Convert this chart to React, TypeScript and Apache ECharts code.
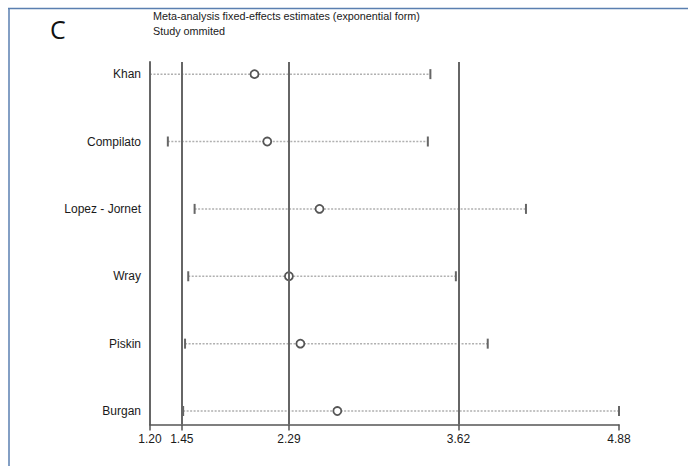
import React, { useEffect, useRef } from "react";
import * as echarts from "echarts";

// Studies omitted (top to bottom)
const studies = ["Khan", "Compilato", "Lopez - Jornet", "Wray", "Piskin", "Burgan"];
// Estimates when each study is omitted
const lowerCI = [1.2, 1.34, 1.55, 1.5, 1.475, 1.46];
const estimate = [2.02, 2.12, 2.53, 2.29, 2.38, 2.67];
const upperCI = [3.4, 3.38, 4.15, 3.6, 3.85, 4.88];
// Overall estimate and its CI (reference lines)
const overallEstimate = 2.29;
const overallCI = [1.45, 3.62];
// Axis tick labels
const xTicks = [1.2, 1.45, 2.29, 3.62, 4.88];
const xMin = 1.2;
const xMax = 4.88;

const titleLine1 = "Meta-analysis fixed-effects estimates (exponential form)";
const titleLine2 = "Study ommited";
const panelLetter = "C";

const FONT = "'Liberation Sans', Arial, sans-serif";

export default function App() {
  const ref = useRef<HTMLDivElement>(null);

  useEffect(() => {
    if (!ref.current) return;
    const chart = echarts.init(ref.current, undefined, { renderer: "svg" });
    const n = studies.length;
    const rows = studies.map((name, i) => [n - 1 - i, lowerCI[i], estimate[i], upperCI[i]]);
    const rowNames: Record<number, string> = {};
    studies.forEach((s, i) => (rowNames[n - 1 - i] = s));

    const option: any = {
      animation: false,
      backgroundColor: "#ffffff",
      textStyle: { fontFamily: FONT },
      title: {
        text: titleLine1 + "\n" + titleLine2,
        left: 153,
        top: 8,
        padding: 0,
        textStyle: {
          fontSize: 10.8,
          fontWeight: "normal",
          color: "#1a1a1a",
          lineHeight: 15,
          fontFamily: FONT,
        },
      },
      graphic: [
        {
          type: "line",
          shape: { x1: 8, y1: 8.5, x2: 688, y2: 8.5 },
          style: { stroke: "#5a7fb0", lineWidth: 1.5 },
        },
        {
          type: "line",
          shape: { x1: 9, y1: 8, x2: 9, y2: 466 },
          style: { stroke: "#5a7fb0", lineWidth: 1.5 },
        },
        {
          type: "text",
          left: 50,
          top: 16,
          style: {
            text: panelLetter,
            fontSize: 25,
            fill: "#111",
            fontFamily: "'Open Sans', 'Liberation Sans', sans-serif",
          },
        },
      ],
      grid: { left: 150, right: 69, top: 62, bottom: 41.5 },
      xAxis: {
        type: "value",
        min: xMin,
        max: xMax,
        axisLine: { show: true, onZero: false, lineStyle: { color: "#555", width: 1.5 } },
        axisTick: {
          show: true,
          customValues: xTicks,
          length: 6,
          lineStyle: { color: "#555", width: 1.5 },
        },
        axisLabel: {
          customValues: xTicks,
          formatter: (v: number) => v.toFixed(2),
          fontSize: 12,
          color: "#1a1a1a",
          margin: 8,
          fontFamily: FONT,
        },
        splitLine: { show: false },
      },
      yAxis: {
        type: "value",
        min: -0.2,
        max: 5.18,
        axisLine: { show: true, onZero: false, lineStyle: { color: "#666", width: 2 } },
        axisTick: { show: false },
        axisLabel: {
          customValues: [0, 1, 2, 3, 4, 5],
          formatter: (v: number) => rowNames[Math.round(v)] ?? "",
          fontSize: 12,
          color: "#1a1a1a",
          margin: 9,
          fontFamily: FONT,
        },
        splitLine: { show: false },
      },
      series: [
        {
          type: "line",
          data: [],
          silent: true,
          markLine: {
            silent: true,
            symbol: "none",
            label: { show: false },
            lineStyle: { color: "#666", width: 2, type: "solid" },
            data: [{ xAxis: overallCI[0] }, { xAxis: overallEstimate }, { xAxis: overallCI[1] }],
          },
        },
        {
          type: "custom",
          data: rows,
          encode: { x: [1, 2, 3], y: 0 },
          renderItem: (params: any, api: any) => {
            const y = api.value(0);
            const pL = api.coord([api.value(1), y]);
            const pE = api.coord([api.value(2), y]);
            const pH = api.coord([api.value(3), y]);
            return {
              type: "group",
              children: [
                {
                  type: "line",
                  shape: { x1: pL[0], y1: pL[1], x2: pH[0], y2: pH[1] },
                  style: { stroke: "#b0b0b0", lineWidth: 1.5, lineDash: [2, 1.5] },
                },
                {
                  type: "line",
                  shape: { x1: pL[0], y1: pL[1] - 5, x2: pL[0], y2: pL[1] + 5 },
                  style: { stroke: "#666", lineWidth: 2 },
                },
                {
                  type: "line",
                  shape: { x1: pH[0], y1: pH[1] - 5, x2: pH[0], y2: pH[1] + 5 },
                  style: { stroke: "#666", lineWidth: 2 },
                },
                {
                  type: "circle",
                  shape: { cx: pE[0], cy: pE[1], r: 4 },
                  style: { fill: "#fff", stroke: "#555", lineWidth: 1.8 },
                },
              ],
            };
          },
        },
      ],
    };
    chart.setOption(option);
    return () => chart.dispose();
  }, []);

  return (
    <div
      ref={ref}
      style={{ position: "fixed", left: 0, top: 0, width: 688, height: 466, background: "#fff" }}
    />
  );
}
